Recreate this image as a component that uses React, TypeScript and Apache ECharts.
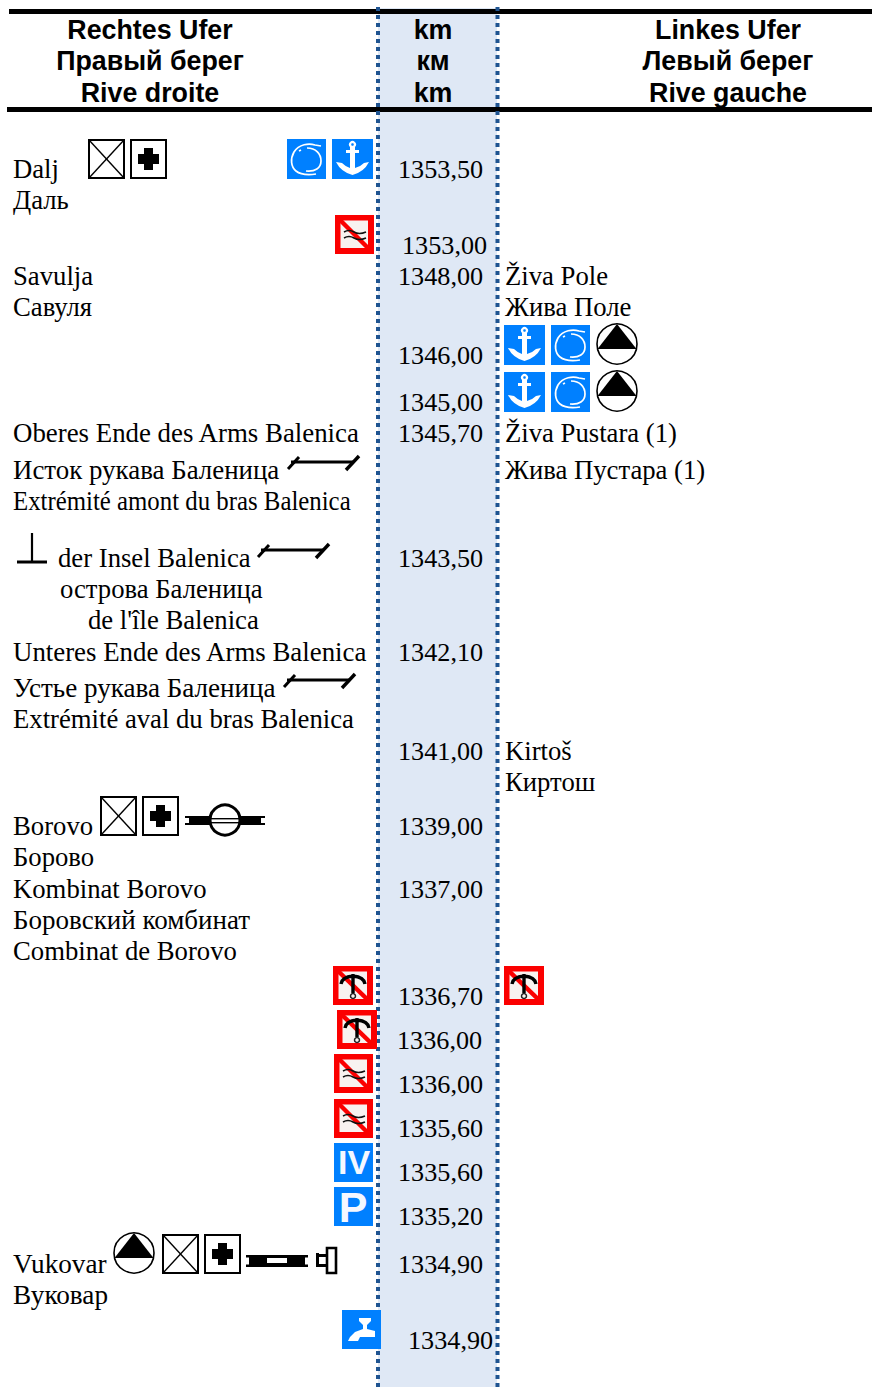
import React, { useEffect, useRef } from "react";
import * as echarts from "echarts";

const headerRight = ["Rechtes Ufer", "Правый берег", "Rive droite"];
const headerKm = ["km", "км", "km"];
const headerLeft = ["Linkes Ufer", "Левый берег", "Rive gauche"];

const kmValues = ["1353,50", "1353,00", "1348,00", "1346,00", "1345,00", "1345,70", "1343,50", "1342,10", "1341,00", "1339,00", "1337,00", "1336,70", "1336,00", "1336,00", "1335,60", "1335,60", "1335,20", "1334,90", "1334,90"];
const rightNames = ["Dalj", "Даль", "Savulja", "Савуля", "Oberes Ende des Arms Balenica", "Исток рукава Баленица", "Extrémité amont du bras Balenica", "der Insel Balenica", "острова Баленица", "de l'île Balenica", "Unteres Ende des Arms Balenica", "Устье рукава Баленица", "Extrémité aval du bras Balenica", "Borovo", "Борово", "Kombinat Borovo", "Боровский комбинат", "Combinat de Borovo", "Vukovar", "Вуковар"];
const leftNames = ["Živa Pole", "Жива Поле", "Živa Pustara (1)", "Жива Пустара (1)", "Kirtoš", "Киртош"];

// layout (kept apart from the content above)
const kmPos = [[398, 169], [402, 245], [398, 276], [398, 355], [398, 402], [398, 433], [398, 558], [398, 652], [398, 751], [398, 826], [398, 889], [398, 996], [397, 1040], [398, 1084], [398, 1128], [398, 1172], [398, 1216], [398, 1264], [408, 1340]];
const rightPos = [[13, 169], [13, 200], [13, 276], [13, 307], [13, 433], [13, 470], [13, 501], [58, 558], [60, 589], [88, 620], [13, 652], [13, 688], [13, 719], [13, 826], [13, 857], [13, 889], [13, 920], [13, 951], [13, 1264], [13, 1295]];
const leftPos = [[505, 276], [505, 307], [505, 433], [505, 470], [505, 751], [505, 782]];
const rightScale = [1, 1, 1, 1, 1.006, 1.008, 0.93, 1, 1, 1, 1.006, 1.015, 1, 1, 1, 1, 1.012, 1, 1.02, 1.02];

const icons: [string, number, number][] = [
  ["boxX", 88, 139], ["boxPlus", 130, 139], ["ring", 287, 139], ["anchor", 332, 139], ["noWave", 335, 215],
  ["anchor", 504, 325], ["ring", 551, 325], ["tri", 596, 323],
  ["anchor", 504, 372], ["ring", 551, 372], ["tri", 596, 370],
  ["tick", 287, 455], ["tick", 257, 543], ["tick", 283, 673], ["tee", 17, 533],
  ["boxX", 100, 796], ["boxPlus", 142, 796], ["pipeCircle", 185, 804],
  ["noAnchor", 333, 966], ["noAnchor", 504, 966], ["noAnchor", 337, 1010],
  ["noWave", 334, 1054], ["noWave", 334, 1099], ["iv", 334, 1143], ["p", 334, 1187],
  ["tri", 113, 1232], ["boxX", 162, 1234], ["boxPlus", 204, 1234], ["pipeBar", 246, 1253], ["bracket", 316, 1247],
  ["tap", 342, 1310],
];

const BLUE = "#0080ff";
const RED = "#fb0000";
const SERIF = '"Liberation Serif", "Times New Roman", serif';
const SANS = '"Liberation Sans", Arial, sans-serif';

echarts.graphic.registerShape("anchorGlyph", echarts.graphic.extendPath("M4 23 L10 24 Q14 28 18 29 L18 14 L14 14 L14 11 L18 11 L18 8 A3.5 3.5 0 1 1 23 8 L23 11 L27 11 L27 14 L23 14 L23 29 Q28 28 32 24 L37 23 Q32 33 20.5 36 Q9 33 4 23 Z", {}));
echarts.graphic.registerShape("ringGlyph", echarts.graphic.extendPath("M34 7 L28 6 C22 4 12 5 7 13 C3 20 4 28 9 32 C14 36 22 36 29 35 M20 9 C29 9 34 15 34 22 C34 29 28 33 19 32 M12 12 L14 11", {}));
echarts.graphic.registerShape("tapGlyph", echarts.graphic.extendPath("M17 8 L29 8 L29 11 L25 15 L25 19 L33 21 L33 27 L18 27 L16 31 L6 31 L8 27 L13 22 L21 19 L21 15 L17 11 Z", {}));
echarts.graphic.registerShape("waveGlyph", echarts.graphic.extendPath("M9 17 Q14 14 19 17 T31 17 M9 23 Q14 20 19 23 T31 23", {}));
echarts.graphic.registerShape("flukeGlyph", echarts.graphic.extendPath("M8 18 Q9 11 20 10 Q31 11 32 18 M20 8 L20 27", {}));
echarts.graphic.registerShape("triGlyph", echarts.graphic.extendPath("M21 1 L40.5 26 L1.5 26 Z", {}));

function iconChildren(kind: string): any[] {
  const blueBox = (w: number, h: number) => ({ type: "rect", shape: { x: 0, y: 0, width: w, height: h }, style: { fill: BLUE } });
  const redBox = (w: number) => [
    { type: "rect", shape: { x: 0, y: 0, width: w, height: 39 }, style: { fill: RED } },
    { type: "rect", shape: { x: 5.5, y: 5.5, width: w - 11.5, height: 27.5 }, style: { fill: "#f8f2f0" } },
    { type: "line", shape: { x1: 5, y1: 5, x2: w - 5, y2: 34 }, style: { stroke: RED, lineWidth: 4.5 } },
  ];
  switch (kind) {
    case "boxX":
      return [
        { type: "rect", shape: { x: 1, y: 1, width: 35, height: 38 }, style: { fill: "#fff", stroke: "#000", lineWidth: 2 } },
        { type: "line", shape: { x1: 1, y1: 1, x2: 36, y2: 39 }, style: { stroke: "#000", lineWidth: 1.4 } },
        { type: "line", shape: { x1: 36, y1: 1, x2: 1, y2: 39 }, style: { stroke: "#000", lineWidth: 1.4 } },
      ];
    case "boxPlus":
      return [
        { type: "rect", shape: { x: 1, y: 1, width: 35, height: 38 }, style: { fill: "#fff", stroke: "#000", lineWidth: 2 } },
        { type: "rect", shape: { x: 14, y: 9, width: 9, height: 22 }, style: { fill: "#000" } },
        { type: "rect", shape: { x: 8, y: 15, width: 21, height: 10 }, style: { fill: "#000" } },
      ];
    case "ring":
      return [blueBox(39, 40), { type: "ringGlyph", style: { fill: "none", stroke: "#fff", lineWidth: 1.7 } }];
    case "anchor":
      return [blueBox(41, 40), { type: "anchorGlyph", style: { fill: "#fff" } }, { type: "circle", shape: { cx: 20.5, cy: 5.5, r: 1.3 }, style: { fill: BLUE } }];
    case "tap":
      return [blueBox(39, 39), { type: "tapGlyph", style: { fill: "#fff" } }];
    case "noWave":
      return [...redBox(39), { type: "waveGlyph", style: { fill: "none", stroke: "#111", lineWidth: 1.5 } }];
    case "noAnchor":
      return [
        ...redBox(40),
        { type: "flukeGlyph", style: { fill: "none", stroke: "#000", lineWidth: 3.4 } },
        { type: "circle", shape: { cx: 20, cy: 30, r: 2.5 }, style: { fill: "none", stroke: "#222", lineWidth: 1.5 } },
      ];
    case "iv":
      return [blueBox(39, 39), { type: "text", style: { text: "IV", x: 20, y: 19, font: `bold 34px ${SANS}`, fill: "#f4f8ff", align: "center", verticalAlign: "middle" } }];
    case "p":
      return [blueBox(39, 39), { type: "text", style: { text: "P", x: 19, y: 20, font: `bold 43px ${SANS}`, fill: "#f4f8ff", align: "center", verticalAlign: "middle" } }];
    case "tri":
      return [
        { type: "circle", shape: { cx: 21, cy: 21, r: 20 }, style: { fill: "#fff", stroke: "#000", lineWidth: 1.6 } },
        { type: "triGlyph", style: { fill: "#000" } },
      ];
    case "tick":
      return [
        { type: "line", shape: { x1: 4, y1: 7, x2: 66, y2: 7 }, style: { stroke: "#000", lineWidth: 3 } },
        { type: "line", shape: { x1: 1, y1: 14, x2: 12, y2: 2 }, style: { stroke: "#000", lineWidth: 3 } },
        { type: "line", shape: { x1: 59, y1: 15, x2: 72, y2: 1 }, style: { stroke: "#000", lineWidth: 3.4 } },
      ];
    case "tee":
      return [
        { type: "line", shape: { x1: 15, y1: 0, x2: 15, y2: 29 }, style: { stroke: "#000", lineWidth: 2.2 } },
        { type: "line", shape: { x1: 0, y1: 29, x2: 30, y2: 29 }, style: { stroke: "#000", lineWidth: 3 } },
      ];
    case "pipeCircle":
      return [
        { type: "rect", shape: { x: 0, y: 12, width: 80, height: 2 }, style: { fill: "#000" } },
        { type: "rect", shape: { x: 0, y: 19, width: 80, height: 2 }, style: { fill: "#000" } },
        { type: "rect", shape: { x: 4, y: 12, width: 72, height: 9 }, style: { fill: "#000" } },
        { type: "circle", shape: { cx: 40, cy: 16, r: 15 }, style: { fill: "#fff", stroke: "#000", lineWidth: 3 } },
        { type: "rect", shape: { x: 26, y: 14, width: 28, height: 1.4 }, style: { fill: "#000" } },
        { type: "rect", shape: { x: 26, y: 18, width: 28, height: 1.4 }, style: { fill: "#000" } },
      ];
    case "pipeBar":
      return [
        { type: "rect", shape: { x: 0, y: 2, width: 62, height: 2.5 }, style: { fill: "#000" } },
        { type: "rect", shape: { x: 0, y: 11.5, width: 62, height: 2.5 }, style: { fill: "#000" } },
        { type: "rect", shape: { x: 3, y: 2, width: 56, height: 12 }, style: { fill: "#000" } },
        { type: "rect", shape: { x: 21, y: 5, width: 20, height: 5 }, style: { fill: "#fff" } },
      ];
    case "bracket":
      return [
        { type: "rect", shape: { x: 11, y: 1, width: 9, height: 25 }, style: { fill: "#fff", stroke: "#000", lineWidth: 2.6 } },
        { type: "rect", shape: { x: 1, y: 7, width: 10, height: 3 }, style: { fill: "#000" } },
        { type: "rect", shape: { x: 1, y: 17, width: 10, height: 3 }, style: { fill: "#000" } },
        { type: "rect", shape: { x: 0, y: 6, width: 3, height: 14 }, style: { fill: "#000" } },
      ];
    default:
      return [];
  }
}

function textEl(text: string, x: number, y: number, font: string, align: string, scaleX = 1) {
  return {
    type: "text",
    x,
    y,
    scaleX,
    style: { text, x: 0, y: 0, font, fill: "#000", align, verticalAlign: "middle" },
  };
}

export default function App() {
  const ref = useRef<HTMLDivElement>(null);
  useEffect(() => {
    document.body.style.margin = "0";
    const chart = echarts.init(ref.current!, null, { renderer: "svg" });
    const headRows = [30, 61, 93];
    const serif = `26.7px ${SERIF}`;
    const kmFont = `26.2px ${SERIF}`;
    const head = `bold 26.8px ${SANS}`;
    const elements: any[] = [
      { type: "rect", shape: { x: 378, y: 8, width: 119, height: 1379 }, style: { fill: "#dfe8f5" } },
      { type: "rect", shape: { x: 9, y: 9, width: 863, height: 5 }, style: { fill: "#000" } },
      { type: "rect", shape: { x: 7, y: 107, width: 865, height: 5 }, style: { fill: "#000" } },
      { type: "line", shape: { x1: 378, y1: 7, x2: 378, y2: 1387 }, style: { stroke: "#1f5491", lineWidth: 4, lineDash: [4, 4] } },
      { type: "line", shape: { x1: 497.5, y1: 7, x2: 497.5, y2: 1387 }, style: { stroke: "#1f5491", lineWidth: 4, lineDash: [4, 4] } },
    ];
    headRows.forEach((y, i) => {
      elements.push(textEl(headerRight[i], 150, y, head, "center"));
      elements.push(textEl(headerKm[i], 433, y, head, "center"));
      elements.push(textEl(headerLeft[i], 728, y, head, "center"));
    });
    kmValues.forEach((t, i) => elements.push(textEl(t, kmPos[i][0], kmPos[i][1], kmFont, "left")));
    rightNames.forEach((t, i) => elements.push(textEl(t, rightPos[i][0], rightPos[i][1], serif, "left", rightScale[i])));
    leftNames.forEach((t, i) => elements.push(textEl(t, leftPos[i][0], leftPos[i][1], serif, "left")));
    icons.forEach(([kind, x, y]) => elements.push({ type: "group", x, y, children: iconChildren(kind) }));
    chart.setOption({ animation: false, graphic: { elements } });
    return () => chart.dispose();
  }, []);
  return <div ref={ref} style={{ position: "absolute", left: 0, top: 0, width: 872, height: 1387, background: "#fff" }} />;
}
